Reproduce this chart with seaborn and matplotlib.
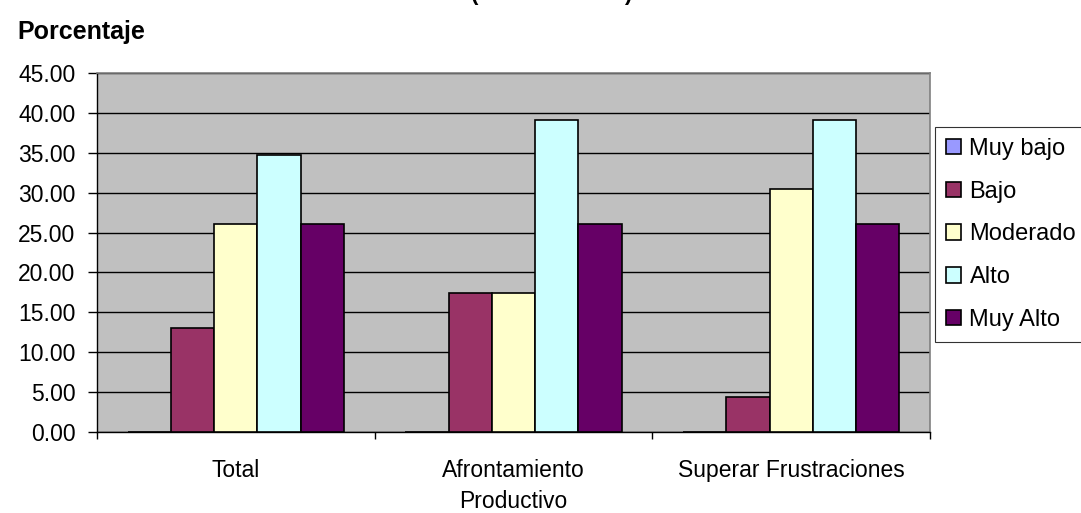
import matplotlib
matplotlib.use("Agg")
import matplotlib.pyplot as plt
import seaborn as sns
import pandas as pd
from matplotlib.patches import Patch

# Data: percentage of respondents per level, by dimension
categories = ["Total", "Afrontamiento\nProductivo", "Superar Frustraciones"]
levels = ["Muy bajo", "Bajo", "Moderado", "Alto", "Muy Alto"]
muy_bajo = [0.00, 0.00, 0.00]
bajo = [13.04, 17.39, 4.35]
moderado = [26.09, 17.39, 30.43]
alto = [34.78, 39.13, 39.13]
muy_alto = [26.09, 26.09, 26.09]
yticks = [0, 5, 10, 15, 20, 25, 30, 35, 40, 45]

colors = ["#9999FF", "#993366", "#FFFFCC", "#CCFFFF", "#660066"]

series = [muy_bajo, bajo, moderado, alto, muy_alto]
rows = []
for lvl, vals in zip(levels, series):
    for cat, v in zip(categories, vals):
        rows.append({"Categoria": cat, "Nivel": lvl, "Porcentaje": v})
df = pd.DataFrame(rows)

sns.set_theme(style="white")
plt.rcParams["font.family"] = ["Liberation Sans", "DejaVu Sans"]
plt.rcParams["text.color"] = "black"
plt.rcParams["xtick.color"] = "black"
plt.rcParams["ytick.color"] = "black"
plt.rcParams["axes.labelcolor"] = "black"

fig = plt.figure(figsize=(10.81, 5.13), dpi=100)
ax = fig.add_axes([97 / 1081, 1 - 432 / 513, (930 - 97) / 1081, (432 - 73) / 513])

sns.barplot(
    data=df, x="Categoria", y="Porcentaje", hue="Nivel",
    order=categories, hue_order=levels, palette=colors,
    width=0.78, edgecolor="black", linewidth=1.2, saturation=1,
    legend=False, ax=ax, zorder=3,
)

ax.set_facecolor("#C0C0C0")
ax.set_ylim(0, 45)
ax.set_xlim(-0.5, 2.5)
ax.set_yticks(yticks)
ax.set_yticklabels([f"{t:.2f}" for t in yticks], fontsize=16.5)
ax.yaxis.grid(True, color="black", linewidth=1.0, zorder=0)
ax.set_axisbelow(True)
ax.set_xlabel("")
ax.set_ylabel("")

# Category labels centred under each group, ticks at group boundaries
ax.set_xticks([0, 1, 2])
ax.set_xticklabels(categories, fontsize=16.5, linespacing=1.42)
ax.tick_params(axis="x", which="major", length=0, pad=19.5)
ax.set_xticks([-0.5, 0.5, 1.5, 2.5], minor=True)
ax.tick_params(axis="x", which="minor", length=5, width=1, color="black", direction="out", bottom=True)
ax.tick_params(axis="y", length=6.5, width=1, color="black", direction="out", left=True, pad=9)

for side in ["left", "bottom"]:
    ax.spines[side].set_color("black")
    ax.spines[side].set_linewidth(1.0)
for side in ["top", "right"]:
    ax.spines[side].set_visible(True)
    ax.spines[side].set_color("#808080")
    ax.spines[side].set_linewidth(1.2)

fig.text(17 / 1081, 1 - 39 / 513, "Porcentaje", fontsize=18, fontweight="bold", va="baseline", ha="left")

# Chart title sits above the visible area; only the bracket tails show
fig.text(475 / 1081, 1.0, "(", fontsize=16, fontweight="bold", va="baseline", ha="center")
fig.text(628 / 1081, 1.0, ")", fontsize=16, fontweight="bold", va="baseline", ha="center")

handles = [Patch(facecolor=c, edgecolor="black", linewidth=1.2) for c in colors]
leg = fig.legend(
    handles, levels, loc="upper left",
    bbox_to_anchor=(935 / 1081, 1 - 127 / 513),
    fontsize=17, frameon=True, fancybox=False,
    handlelength=0.62, handleheight=0.62, handletextpad=0.38,
    labelspacing=0.88, borderpad=0.46, borderaxespad=0,
)
leg.get_frame().set_edgecolor("black")
leg.get_frame().set_linewidth(0.8)

fig.savefig("out.png", dpi=100, facecolor="white")
